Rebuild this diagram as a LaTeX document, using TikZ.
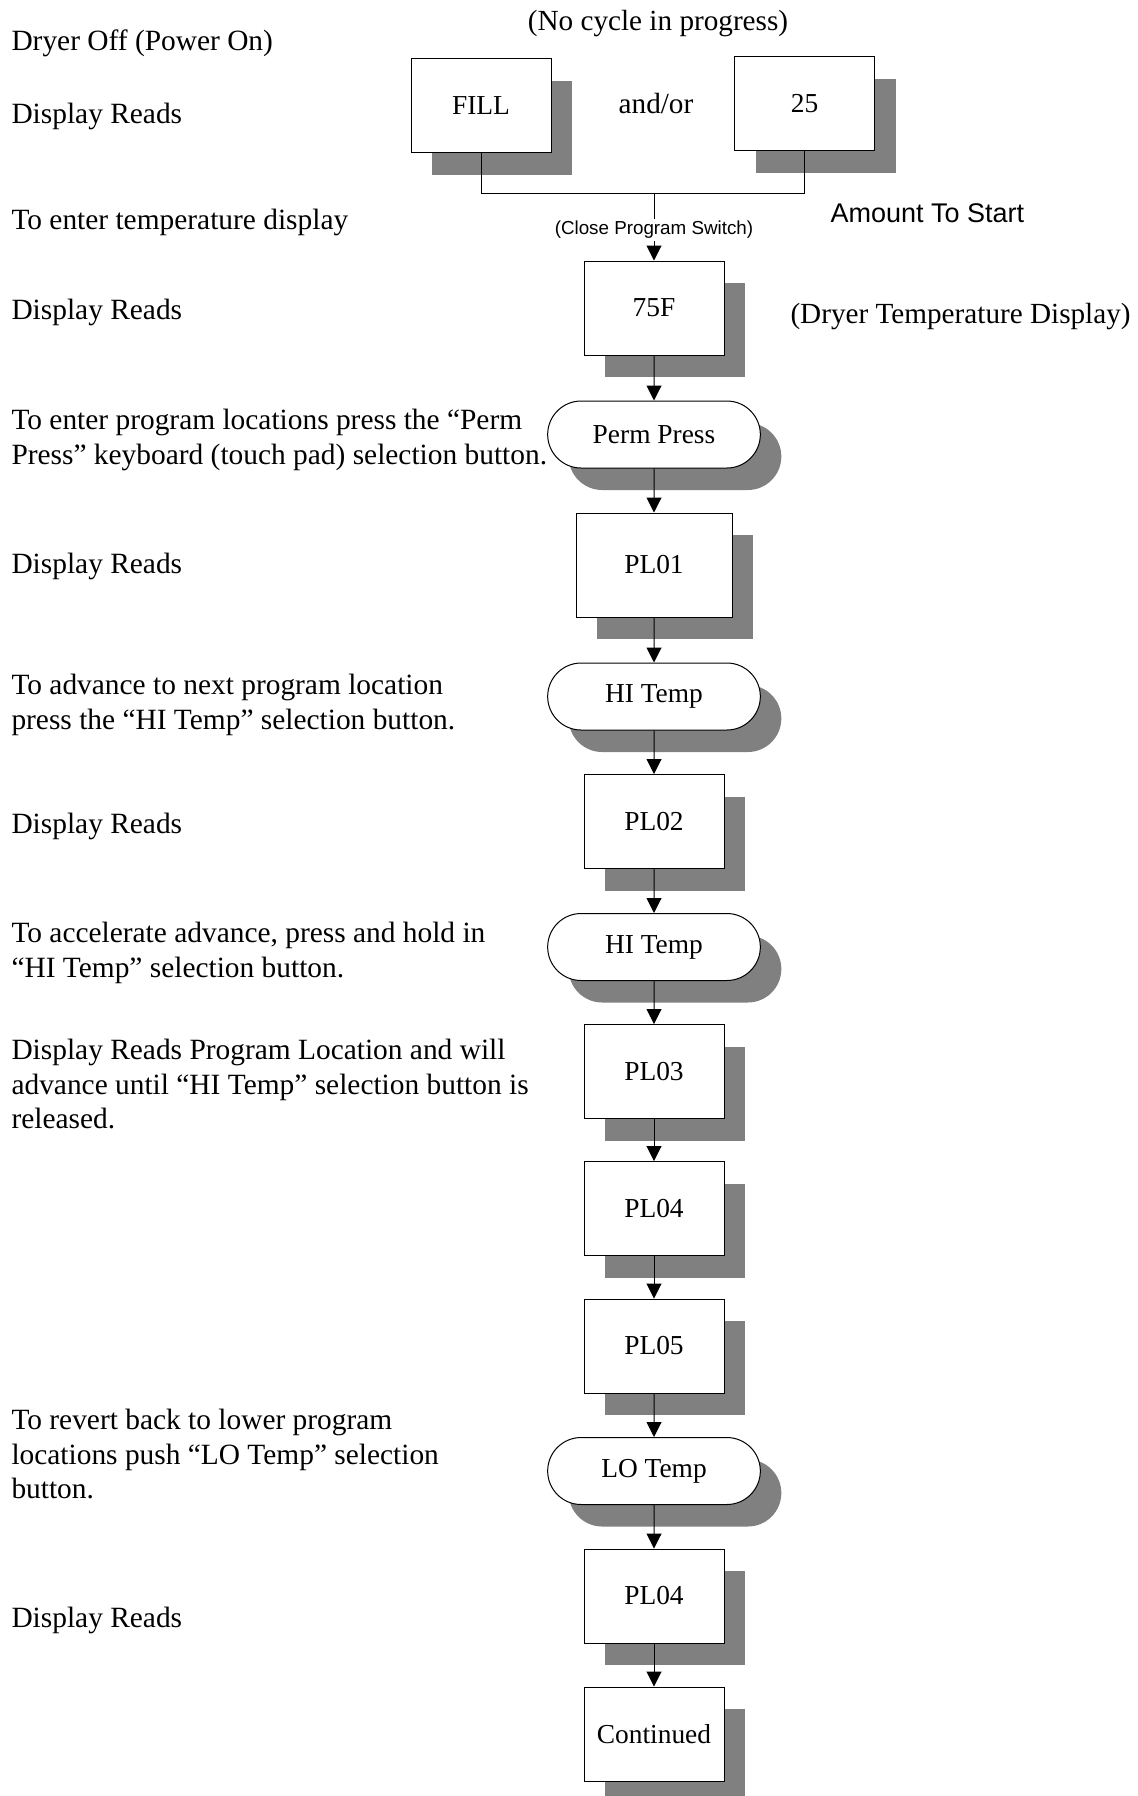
\documentclass[tikz,border=0pt]{standalone}
\usepackage{fontspec}
\setmainfont{Liberation Serif}
\newfontfamily\arialfont{Liberation Sans}
\usetikzlibrary{arrows.meta,shapes.misc,shadows}

\begin{document}
\begin{tikzpicture}[x=0.5pt,y=-0.5pt,line width=0.5pt,
  >={Triangle[width=7.5pt,length=7.5pt]},
  dropgray/.style={drop shadow={shadow xshift=10.5pt,shadow yshift=-11pt,fill=black!50,opacity=1}},
  readout/.style={draw,fill=white,dropgray,minimum width=70pt,minimum height=47pt,
    font=\fontsize{13.7}{16}\selectfont},
  button/.style={draw,fill=white,dropgray,rounded rectangle,minimum width=113pt,
    minimum height=33.5pt,font=\fontsize{13.7}{16}\selectfont},
  leftnote/.style={anchor=west,align=left,inner sep=0pt,font=\fontsize{14.7}{17.25}\selectfont}]
  \useasboundingbox (0,0) rectangle (1137,1796);

  % Top nodes
  \node (cycle) at (658,24) {\fontsize{14.6}{17}\selectfont (No cycle in progress)};
  \node[readout] (fill) at (481,105.5) {FILL};
  \node (andor) at (656,104) {\fontsize{14.6}{17}\selectfont and/or};
  \node[readout] (amt) at (804.5,103.5) {25};
  \node[anchor=west,inner sep=0pt] (amtstart) at (830,213) {\arialfont\fontsize{13.5}{16}\selectfont Amount To Start};
  \coordinate (join) at (654,193);
  \node[inner sep=1pt] (switch) at (654,230) {\arialfont\fontsize{9.4}{11}\selectfont (Close Program Switch)};

  % Column nodes
  \node[readout] (t75) at (654,308) {75F};
  \node[anchor=west,inner sep=0pt] (tempdisp) at (790,317) {\fontsize{14.6}{17}\selectfont (Dryer Temperature Display)};
  \node[button] (perm) at (654,434.5) {Perm Press};
  \node[readout,minimum width=78pt,minimum height=52pt] (pl01) at (654,565) {PL01};
  \node[button] (hi1) at (654,696.5) {HI Temp};
  \node[readout] (pl02) at (654,821.5) {PL02};
  \node[button] (hi2) at (654,947) {HI Temp};
  \node[readout] (pl03) at (654,1071.5) {PL03};
  \node[readout] (pl04) at (654,1208.5) {PL04};
  \node[readout] (pl05) at (654,1346) {PL05};
  \node[button] (lo) at (654,1471) {LO Temp};
  \node[readout] (pl04b) at (654,1596) {PL04};
  \node[readout] (cont) at (654,1734) {Continued};

  % Left notes
  \node[leftnote] (n1) at (11,43) {Dryer Off (Power On)};
  \node[leftnote] (n2) at (11,116) {Display Reads};
  \node[leftnote] (n3) at (11,222) {To enter temperature display};
  \node[leftnote] (n4) at (11,312) {Display Reads};
  \node[leftnote] (n5) at (11,440) {To enter program locations press the “Perm\\Press” keyboard (touch pad) selection button.};
  \node[leftnote] (n6) at (11,566) {Display Reads};
  \node[leftnote] (n7) at (11,705) {To advance to next program location\\press the “HI Temp” selection button.};
  \node[leftnote] (n8) at (11,826) {Display Reads};
  \node[leftnote] (n9) at (11,953) {To accelerate advance, press and hold in\\“HI Temp” selection button.};
  \node[leftnote] (n10) at (11,1084) {Display Reads Program Location and will\\advance until “HI Temp” selection button is\\released.};
  \node[leftnote] (n11) at (11,1454) {To revert back to lower program\\locations push “LO Temp” selection\\button.};
  \node[leftnote] (n12) at (11,1620) {Display Reads};

  % Lines joining the start displays
  \draw (fill) |- (join) -| (amt);
  \draw (join) -- (switch);
  \draw[->] (switch) -- (t75);

  % Arrows going down
  \draw[->] (t75) to (perm);
  \draw[->] (perm) to (pl01);
  \draw[->] (pl01) to (hi1);
  \draw[->] (hi1) to (pl02);
  \draw[->] (pl02) to (hi2);
  \draw[->] (hi2) to (pl03);
  \draw[->] (pl03) to (pl04);
  \draw[->] (pl04) to (pl05);
  \draw[->] (pl05) to (lo);
  \draw[->] (lo) to (pl04b);
  \draw[->] (pl04b) to (cont);

\end{tikzpicture}
\end{document}
